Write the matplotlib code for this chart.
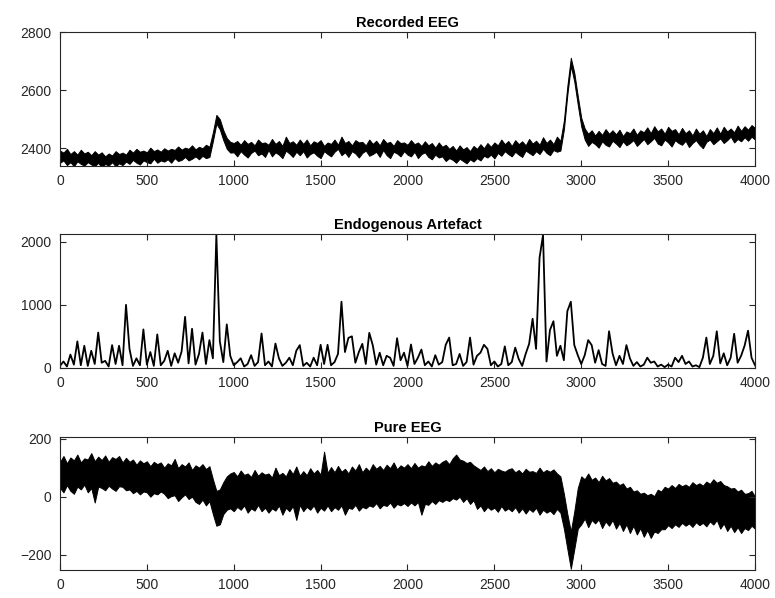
import numpy as np
import matplotlib.pyplot as plt

# sample index (every 20th sample of the 4000-sample record)
samples = np.arange(0, 4001, 20)

# recorded EEG, top panel: upper / lower edge of the noisy trace
recorded_hi = [
    2392, 2385, 2398, 2380, 2390, 2378, 2395, 2382, 2388, 2376,
    2390, 2378, 2386, 2372, 2382, 2375, 2390, 2380, 2385, 2378,
    2395, 2385, 2398, 2388, 2392, 2386, 2402, 2390, 2396, 2388,
    2400, 2392, 2398, 2394, 2406, 2395, 2402, 2398, 2410, 2396,
    2405, 2400, 2412, 2405, 2455, 2515, 2500, 2462, 2435, 2422,
    2418, 2425, 2412, 2428, 2415, 2422, 2410, 2430, 2418, 2420,
    2412, 2432, 2415, 2425, 2408, 2440, 2418, 2424, 2412, 2430,
    2415, 2430, 2410, 2424, 2418, 2428, 2408, 2420, 2415, 2430,
    2412, 2440, 2418, 2425, 2410, 2428, 2420, 2422, 2410, 2430,
    2415, 2426, 2410, 2432, 2418, 2422, 2408, 2428, 2418, 2420,
    2412, 2428, 2414, 2420, 2408, 2424, 2410, 2418, 2402, 2420,
    2405, 2412, 2398, 2408, 2392, 2410, 2396, 2404, 2390, 2408,
    2398, 2414, 2400, 2418, 2405, 2420, 2410, 2430, 2414, 2425,
    2408, 2428, 2414, 2424, 2410, 2432, 2416, 2426, 2412, 2438,
    2418, 2430, 2414, 2440, 2425, 2495, 2615, 2712, 2660, 2580,
    2505, 2468, 2450, 2462, 2444, 2460, 2446, 2466, 2450, 2462,
    2448, 2464, 2442, 2458, 2452, 2468, 2446, 2462, 2455, 2472,
    2452, 2476, 2458, 2468, 2450, 2474, 2460, 2466, 2448, 2470,
    2452, 2462, 2444, 2468, 2450, 2462, 2442, 2466, 2452, 2472,
    2450, 2474, 2458, 2468, 2455, 2478, 2460, 2476, 2464, 2480,
    2470,
]
recorded_lo = [
    2350, 2358, 2342, 2352, 2338, 2355, 2346, 2340, 2352, 2344,
    2338, 2350, 2334, 2346, 2340, 2352, 2338, 2348, 2342, 2354,
    2346, 2360, 2350, 2344, 2358, 2352, 2348, 2364, 2350, 2358,
    2354, 2362, 2350, 2366, 2356, 2360, 2370, 2358, 2364, 2372,
    2362, 2374, 2366, 2370, 2425, 2485, 2465, 2428, 2398, 2385,
    2386, 2372, 2390, 2378, 2368, 2384, 2392, 2376, 2382, 2370,
    2394, 2372, 2386, 2378, 2366, 2392, 2382, 2370, 2388, 2376,
    2390, 2368, 2380, 2386, 2374, 2366, 2390, 2380, 2372, 2388,
    2398, 2376, 2386, 2370, 2390, 2382, 2368, 2384, 2392, 2374,
    2380, 2388, 2370, 2394, 2376, 2366, 2388, 2382, 2372, 2390,
    2378, 2372, 2388, 2366, 2380, 2386, 2370, 2362, 2378, 2368,
    2372, 2356, 2366, 2360, 2350, 2364, 2356, 2348, 2362, 2354,
    2366, 2358, 2374, 2368, 2378, 2365, 2384, 2374, 2390, 2380,
    2372, 2388, 2378, 2370, 2392, 2384, 2376, 2390, 2380, 2398,
    2384, 2376, 2394, 2388, 2392, 2465, 2585, 2685, 2630, 2550,
    2475, 2430, 2408, 2422, 2414, 2402, 2424, 2412, 2406, 2426,
    2416, 2404, 2424, 2410, 2418, 2428, 2408, 2420, 2432, 2414,
    2424, 2436, 2416, 2410, 2430, 2420, 2406, 2428, 2418, 2412,
    2426, 2404, 2418, 2428, 2412, 2400, 2422, 2430, 2414, 2424,
    2434, 2418, 2428, 2440, 2420, 2432, 2424, 2438, 2426, 2440,
    2430,
]

# endogenous artefact, middle panel
artefact = [
    30, 100, 20, 210, 50, 420, 40, 350, 30, 270,
    60, 560, 80, 110, 20, 360, 60, 350, 40, 1000,
    300, 30, 150, 40, 610, 50, 250, 30, 530, 40,
    110, 270, 30, 230, 80, 260, 810, 70, 620, 50,
    220, 560, 60, 440, 150, 2110, 420, 90, 690, 190,
    40, 90, 150, 20, 60, 200, 30, 90, 545, 40,
    100, 20, 385, 150, 30, 80, 160, 40, 270, 360,
    30, 80, 20, 160, 40, 365, 60, 365, 40, 90,
    220, 1050, 250, 475, 500, 80, 250, 380, 60, 555,
    360, 50, 240, 40, 190, 160, 30, 470, 120, 240,
    30, 370, 60, 160, 290, 40, 100, 20, 200, 50,
    90, 365, 480, 40, 60, 220, 30, 90, 480, 50,
    190, 240, 365, 300, 40, 100, 20, 60, 340, 40,
    90, 320, 140, 30, 220, 380, 780, 300, 1750, 2110,
    100, 600, 740, 190, 350, 120, 900, 1050, 360, 200,
    60, 200, 440, 360, 80, 280, 60, 30, 580, 230,
    40, 190, 60, 360, 150, 30, 90, 20, 50, 160,
    80, 100, 20, 50, 10, 50, 20, 160, 90, 190,
    60, 100, 20, 40, 10, 160, 480, 60, 190, 580,
    70, 230, 40, 160, 540, 80, 190, 350, 590, 160,
    40,
]

# pure EEG, bottom panel: upper / lower edge of the noisy trace
pure_hi = [
    120, 140, 115, 135, 125, 145, 118, 132, 128, 150,
    122, 138, 126, 142, 120, 136, 130, 140, 118, 134,
    120, 128, 110, 125, 115, 122, 105, 120, 112, 118,
    100, 115, 108, 130, 98, 112, 104, 118, 92, 108,
    100, 112, 95, 105, 60, 20, 25, 50, 70, 80,
    85, 70, 90, 75, 80, 68, 92, 72, 84, 76,
    80, 66, 100, 74, 82, 70, 95, 78, 104, 72,
    88, 74, 98, 80, 92, 76, 155, 82, 102, 84,
    106, 86, 96, 80, 104, 90, 112, 84, 100, 88,
    112, 96, 106, 92, 110, 98, 118, 94, 108, 100,
    112, 98, 116, 100, 108, 104, 122, 106, 118, 110,
    120, 126, 112, 132, 145, 128, 124, 116, 120, 108,
    100, 92, 104, 88, 98, 84, 96, 90, 86, 94,
    98, 84, 92, 80, 96, 86, 88, 82, 100, 84,
    92, 86, 94, 80, 70, 10, -60, -120, -50, 30,
    70, 60, 80, 58, 66, 50, 72, 56, 64, 48,
    52, 40, 46, 28, 34, 18, 22, 10, 14, 5,
    10, 2, 24, 18, 34, 28, 40, 30, 44, 36,
    42, 34, 50, 40, 46, 38, 52, 44, 60, 48,
    54, 40, 36, 28, 30, 18, 24, 10, 12, 20,
    0,
]
pure_lo = [
    30, 15, 40, 20, 10, 35, 25, 42, 15, 30,
    -20, 35, 30, 22, 38, 28, 20, 36, 34, 22,
    25, 12, 20, 8, 18, 15, 0, 12, 8, 18,
    10, -5, 2, 5, -15, -2, 8, -8, 0, -18,
    -25, -10, -30, -15, -60, -100, -95, -60, -45, -40,
    -50, -35, -45, -30, -55, -40, -48, -28, -50, -38,
    -55, -40, -48, -30, -62, -38, -50, -32, -80, -28,
    -50, -35, -45, -30, -55, -38, -48, -30, -50, -36,
    -45, -30, -62, -38, -42, -28, -48, -35, -40, -30,
    -35, -22, -40, -28, -32, -20, -38, -25, -30, -22,
    -32, -20, -30, -18, -62, -25, -28, -15, -25, -12,
    -18, -10, -15, -5, -10, 0, -18, -5, -25, -12,
    -42, -30, -50, -35, -45, -38, -52, -32, -48, -40,
    -50, -36, -55, -40, -58, -42, -52, -38, -62, -45,
    -55, -48, -60, -42, -55, -110, -180, -248, -180, -110,
    -95, -75, -105, -80, -92, -78, -108, -85, -100, -80,
    -110, -90, -118, -95, -125, -100, -130, -108, -138, -115,
    -142, -120, -125, -112, -112, -98, -108, -95, -104, -90,
    -100, -92, -104, -88, -98, -90, -102, -85, -96, -80,
    -110, -92, -118, -100, -122, -105, -125, -108, -115, -100,
    -110,
]

plt.rcParams['font.family'] = ['Liberation Sans', 'DejaVu Sans']
plt.rcParams['font.size'] = 10

fig = plt.figure(figsize=(7.75, 5.98), dpi=100)
left, width = 0.0774, 0.8968


def style(ax, title, ylim, yticks):
    ax.set_xlim(0, 4000)
    ax.set_ylim(*ylim)
    ax.set_xticks(np.arange(0, 4001, 500))
    ax.set_yticks(yticks)
    ax.set_title(title, fontweight='bold', fontsize=10.5, pad=4)
    ax.tick_params(direction='in', length=4, width=0.8, top=True, right=True,
                   colors='#262626', labelsize=10, pad=6)
    for s in ax.spines.values():
        s.set_color('#262626')
        s.set_linewidth(0.8)


ax1 = fig.add_axes([left, 0.723, width, 0.223])
ax1.fill_between(samples, recorded_lo, recorded_hi, color='black', linewidth=0.7)
style(ax1, 'Recorded EEG', (2340, 2800), [2400, 2600, 2800])

ax2 = fig.add_axes([left, 0.385, width, 0.223])
ax2.plot(samples, artefact, color='black', linewidth=1.3)
style(ax2, 'Endogenous Artefact', (0, 2120), [0, 1000, 2000])

ax3 = fig.add_axes([left, 0.047, width, 0.222])
ax3.fill_between(samples, pure_lo, pure_hi, color='black', linewidth=0.7)
style(ax3, 'Pure EEG', (-252, 205), [-200, 0, 200])

plt.savefig('out.png', dpi=100)
